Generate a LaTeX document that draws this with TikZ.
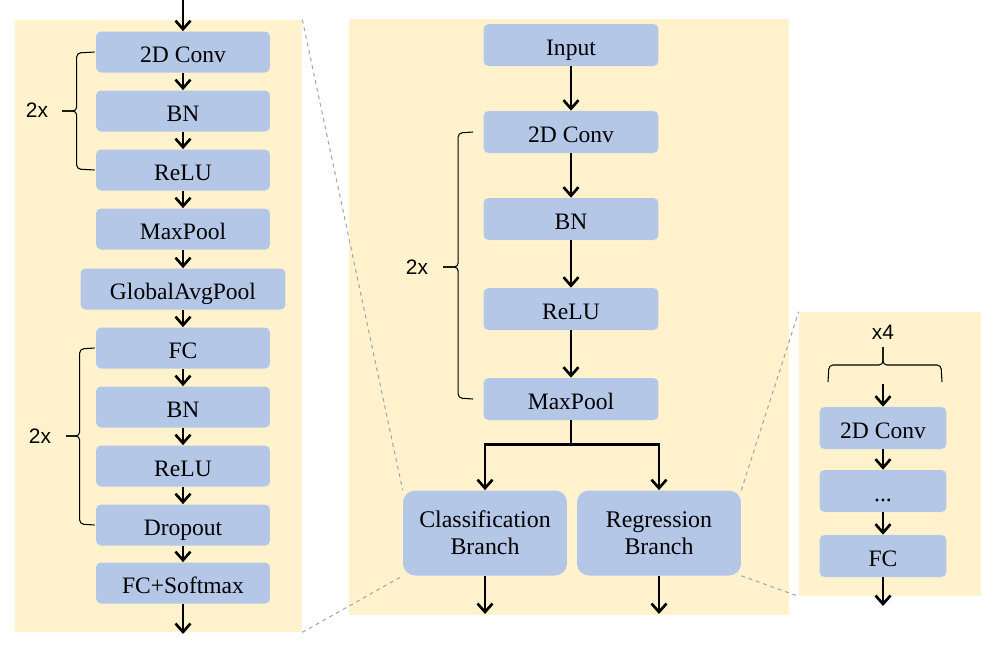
\documentclass[tikz,border=0pt]{standalone}
\usepackage{fontspec}
\setmainfont{Liberation Serif}
\newfontfamily\repfont{Liberation Sans}
\usepackage{xcolor}
\usepackage{tikz}
\usetikzlibrary{arrows.meta,backgrounds}
\definecolor{panelbg}{HTML}{FFF2CC}
\definecolor{layerbg}{HTML}{B4C7E7}
\definecolor{zoomgray}{HTML}{A6A6A6}

\begin{document}
\begin{tikzpicture}[
  x=0.02cm, y=-0.02cm,
  layer/.style={fill=layerbg, rounded corners=0.1cm, minimum width=3.48cm,
    minimum height=0.82cm, inner sep=0pt, text height=12pt, text depth=0pt,
    font=\fontsize{13.4}{15}\selectfont},
  branch/.style={fill=layerbg, rounded corners=0.24cm, minimum width=3.28cm,
    minimum height=1.7cm, inner sep=0pt, align=center,
    font=\fontsize{13.6}{15.5}\selectfont},
  panel/.style={fill=panelbg, inner sep=0pt},
  arr/.style={-{Straight Barb[length=1.7mm,width=3mm]}, line width=1.5pt},
  brc/.style={rounded corners=0.08cm, line width=0.6pt},
  rep/.style={font=\repfont\fontsize{11.9}{13}\selectfont},
  zoomline/.style={zoomgray, line width=0.6pt, dash pattern=on 2.2pt off 2.2pt},
]
\useasboundingbox (0,0) rectangle (998,647);
% classification branch
\node[layer] (lconv) at (183,52) {2D Conv};
\node[layer] (lbn1) at (183,111) {BN};
\node[layer] (lrelu1) at (183,170) {ReLU};
\node[layer] (lpool) at (183,229) {MaxPool};
\node[layer, minimum width=4.1cm] (lgap) at (183,289) {GlobalAvgPool};
\node[layer] (lfc) at (183,348) {FC};
\node[layer] (lbn2) at (183,407) {BN};
\node[layer] (lrelu2) at (183,466) {ReLU};
\node[layer] (ldrop) at (183,525) {Dropout};
\node[layer] (lsoft) at (183,583) {FC+Softmax};
\coordinate (lin) at (183,0);
\coordinate (lout) at (183,634);
\draw[arr] (lin) -- (lconv);
\draw[arr] (lconv) -- (lbn1);
\draw[arr] (lbn1) -- (lrelu1);
\draw[arr] (lrelu1) -- (lpool);
\draw[arr] (lpool) -- (lgap);
\draw[arr] (lgap) -- (lfc);
\draw[arr] (lfc) -- (lbn2);
\draw[arr] (lbn2) -- (lrelu2);
\draw[arr] (lrelu2) -- (ldrop);
\draw[arr] (ldrop) -- (lsoft);
\draw[arr] (lsoft) -- (lout);
\coordinate (ltip1) at (62,111);
\coordinate (ltip2) at (66,436);
\draw[brc] ([xshift=-0.02cm]lconv.west) -- ++(-18,1) |- (ltip1);
\draw[brc] ([xshift=-0.02cm]lrelu1.west) -- ++(-18,-1) |- (ltip1);
\draw[brc] ([xshift=-0.02cm]lfc.west) -- ++(-15,1) |- (ltip2);
\draw[brc] ([xshift=-0.02cm]ldrop.west) -- ++(-15,-1) |- (ltip2);
\node[rep] (lrep1) at (37,110) {2x};
\node[rep] (lrep2) at (40,436) {2x};
% backbone
\node[layer, minimum width=3.5cm, minimum height=0.84cm] (input) at (571,45) {Input};
\node[layer, minimum width=3.5cm, minimum height=0.84cm] (conv) at (571,132) {2D Conv};
\node[layer, minimum width=3.5cm, minimum height=0.84cm] (bn) at (571,219) {BN};
\node[layer, minimum width=3.5cm, minimum height=0.84cm] (relu) at (571,309) {ReLU};
\node[layer, minimum width=3.5cm, minimum height=0.84cm] (pool) at (571,399) {MaxPool};
\node[branch] (cls) at (485,533) {Classification\\Branch};
\node[branch] (reg) at (659,533) {Regression\\Branch};
\coordinate (clsout) at (485,614);
\coordinate (regout) at (659,614);
\draw[arr] (input) -- (conv);
\draw[arr] (conv) -- (bn);
\draw[arr] (bn) -- (relu);
\draw[arr] (relu) -- (pool);
\draw[arr] (pool.south) -- ++(0,24) -| (cls.north);
\draw[arr] (pool.south) -- ++(0,24) -| (reg.north);
\draw[arr] (cls) -- (clsout);
\draw[arr] (reg) -- (regout);
\coordinate (tip) at (443,267);
\draw[brc] ([xshift=-0.2cm]conv.west) -- ++(-15,1) |- (tip);
\draw[brc] ([xshift=-0.2cm]pool.west) -- ++(-15,-1) |- (tip);
\node[rep] (rep) at (417,267) {2x};
% regression branch
\node[layer, minimum width=2.54cm, minimum height=0.84cm] (rconv) at (883,428) {2D Conv};
\node[layer, minimum width=2.54cm, minimum height=0.84cm] (rdots) at (883,491) {...};
\node[layer, minimum width=2.54cm, minimum height=0.84cm] (rfc) at (883,556) {FC};
\coordinate (rin) at (883,384);
\coordinate (rout) at (883,606);
\coordinate (rbl) at (828,382);
\coordinate (rbr) at (942,382);
\coordinate (rtip) at (883,347);
\draw[arr] (rin) -- (rconv);
\draw[arr] (rconv) -- (rdots);
\draw[arr] (rdots) -- (rfc);
\draw[arr] (rfc) -- (rout);
\draw[brc] (rbl) -- ++(1,-17) -| (rtip);
\draw[brc] (rbr) -- ++(-1,-17) -| (rtip);
\node[rep] (rrep) at (883,332) {x4};
\begin{scope}[on background layer]
\node[panel, minimum width=5.74cm, minimum height=12.24cm] (lpanel) at (158.5,326) {};
\node[panel, minimum width=8.8cm, minimum height=11.92cm] (mpanel) at (569,317) {};
\node[panel, minimum width=3.64cm, minimum height=5.68cm] (rpanel) at (890,454) {};
\draw[zoomline] (lpanel.north east) -- (cls.north west);
\draw[zoomline] (lpanel.south east) -- (cls.south west);
\draw[zoomline] (reg.north east) -- (rpanel.north west);
\draw[zoomline] (reg.south east) -- (rpanel.south west);
\end{scope}
\end{tikzpicture}
\end{document}
